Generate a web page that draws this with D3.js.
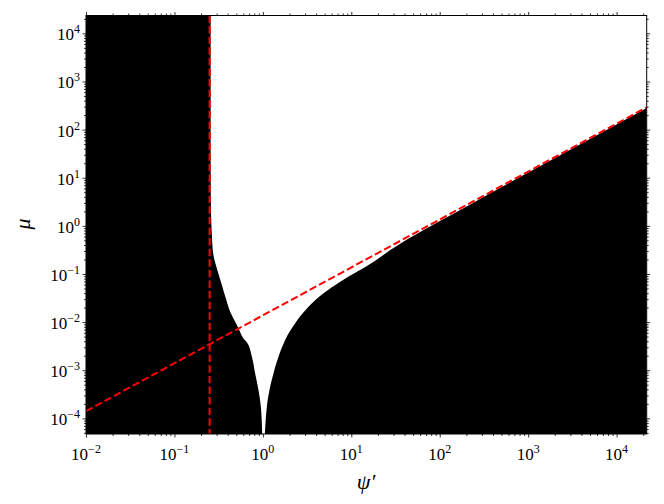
<!DOCTYPE html>
<html>
<head>
<meta charset="utf-8">
<script src="https://cdn.jsdelivr.net/npm/d3@7"></script>
<style>
  body { margin: 0; background: #fff; }
  text { font-family: "Liberation Serif", "DejaVu Serif", serif; fill: #000; }
</style>
</head>
<body>
<svg id="chart" width="664" height="504"></svg>
<script>
"use strict";

// Axis extents (data units)
const xExtent = [1e-2, 2.19e4];
const yExtent = [4.73e-5, 2.35e4];
const xDecades = [-2, -1, 0, 1, 2, 3, 4];
const yDecades = [-4, -3, -2, -1, 0, 1, 2, 3, 4];

// Boundary of the black region, left branch (from top down to psi' ~ 1)
const leftEdge = [
  [0.2566, 2.35e4], [0.2566, 37.6], [0.258, 3.4], [0.261, 1.2],
  [0.265, 0.644], [0.276, 0.247], [0.3014, 0.131], [0.3436, 0.0589],
  [0.381, 0.0312], [0.4266, 0.0164], [0.486, 0.01017], [0.5295, 0.00741],
  [0.603, 0.00459], [0.659, 0.0038], [0.751, 0.00191], [0.818, 8.6e-4],
  [0.892, 3.87e-4], [0.949, 1.74e-4], [0.974, 7.87e-5], [0.982, 4.73e-5]
];

// Boundary of the black region, right branch (from psi' ~ 1 out to the right edge)
const rightEdge = [
  [1.053, 4.73e-5], [1.070, 7.87e-5], [1.110, 1.74e-4], [1.188, 3.87e-4],
  [1.318, 8.6e-4], [1.502, 0.00191], [1.788, 0.00424], [2.32, 0.00942],
  [3.28, 0.0208], [4.85, 0.0396], [7.50, 0.069], [11.6, 0.111],
  [17.9, 0.1795], [27.6, 0.314], [65.7, 0.818], [157, 1.96],
  [343, 4.37], [1000, 12.8], [5000, 64], [2.19e4, 280]
];

// Red dashed guides
const guideX = 0.25;
const guideLine = [[1e-2, 1.41e-4], [2.19e4, 290]];

const margin = { top: 15.5, right: 17.3, bottom: 70, left: 86 };
const svg = d3.select("#chart");
const width = 664 - margin.left - margin.right;
const height = 504 - margin.top - margin.bottom;

const x = d3.scaleLog().domain(xExtent).range([0, width]);
const y = d3.scaleLog().domain(yExtent).range([height, 0]);

const g = svg.append("g").attr("transform", `translate(${margin.left},${margin.top})`);

g.append("clipPath").attr("id", "plot-clip")
  .append("rect").attr("width", width).attr("height", height);

const plot = g.append("g").attr("clip-path", "url(#plot-clip)");

// Black region left of the cusp: everything from the left frame to the left branch
let leftArea = d3.area()
  .curve(d3.curveMonotoneY)
  .y(d => y(d[1]))
  .x0(0)
  .x1(d => x(d[0]));

// Black region under the right branch
let rightArea = d3.area()
  .curve(d3.curveMonotoneX)
  .x(d => x(d[0]))
  .y0(height)
  .y1(d => y(d[1]));

plot.append("path").attr("d", leftArea(leftEdge)).attr("fill", "#000");
plot.append("path").attr("d", rightArea(rightEdge)).attr("fill", "#000");

let line = d3.line().x(d => x(d[0])).y(d => y(d[1]));

plot.append("line")
  .attr("x1", x(guideX)).attr("x2", x(guideX))
  .attr("y1", 0).attr("y2", height)
  .attr("stroke", "#ff0000").attr("stroke-width", 2)
  .attr("stroke-dasharray", "7.4,3.2");

plot.append("path")
  .attr("d", line(guideLine))
  .attr("fill", "none")
  .attr("stroke", "#ff0000").attr("stroke-width", 2)
  .attr("stroke-dasharray", "7.4,3.2");

// Ticks: majors at decades, minors at 2..9 times each decade
let minorTicks = (decades, ext) => {
  let out = [];
  decades.concat([decades[0] - 1]).forEach(k => {
    for (let m = 2; m <= 9; m++) {
      let v = m * Math.pow(10, k);
      if (v > ext[0] && v < ext[1]) out.push(v);
    }
  });
  return out;
};
const xMajor = xDecades.map(k => Math.pow(10, k));
const yMajor = yDecades.map(k => Math.pow(10, k));
const xMinor = minorTicks(xDecades, xExtent);
const yMinor = minorTicks(yDecades, yExtent);

let drawAxis = (axisFn, scale, values, size, transform) => {
  let a = g.append("g")
    .attr("transform", transform)
    .call(axisFn(scale).tickValues(values).tickSize(size).tickSizeOuter(0).tickFormat(""));
  a.select(".domain").remove();
  a.selectAll("line").attr("stroke-width", 0.8);
};

drawAxis(d3.axisBottom, x, xMajor, 3.5, `translate(0,${height})`);
drawAxis(d3.axisBottom, x, xMinor, 2, `translate(0,${height})`);
drawAxis(d3.axisTop, x, xMajor, 3.5, "translate(0,0)");
drawAxis(d3.axisTop, x, xMinor, 2, "translate(0,0)");
drawAxis(d3.axisLeft, y, yMajor, 3.5, "translate(0,0)");
drawAxis(d3.axisLeft, y, yMinor, 2, "translate(0,0)");
drawAxis(d3.axisRight, y, yMajor, 3.5, `translate(${width},0)`);
drawAxis(d3.axisRight, y, yMinor, 2, `translate(${width},0)`);

// Frame
g.append("rect")
  .attr("width", width).attr("height", height)
  .attr("fill", "none").attr("stroke", "#000").attr("stroke-width", 1);

// Tick labels as 10^k
let powerLabel = (sel, k) => {
  sel.append("tspan").text("10");
  sel.append("tspan").attr("dy", -7).attr("font-size", 12)
    .text(k < 0 ? "\u2212" + Math.abs(k) : String(k));
};

xDecades.forEach(k => {
  let t = g.append("text")
    .attr("x", x(Math.pow(10, k)))
    .attr("y", height + 26)
    .attr("text-anchor", "middle")
    .attr("font-size", 17);
  powerLabel(t, k);
});

yDecades.forEach(k => {
  let t = g.append("text")
    .attr("x", -6)
    .attr("y", y(Math.pow(10, k)) + 7)
    .attr("text-anchor", "end")
    .attr("font-size", 17);
  powerLabel(t, k);
});

// Axis titles
svg.append("text")
  .attr("transform", "translate(30,224) rotate(-90)")
  .attr("text-anchor", "middle")
  .attr("font-size", 22)
  .attr("font-style", "italic")
  .text("\u03bc");

svg.append("text")
  .attr("x", 366)
  .attr("y", 489)
  .attr("text-anchor", "middle")
  .attr("font-size", 22)
  .attr("font-style", "italic")
  .text("\u03c8\u2032");
</script>
</body>
</html>
